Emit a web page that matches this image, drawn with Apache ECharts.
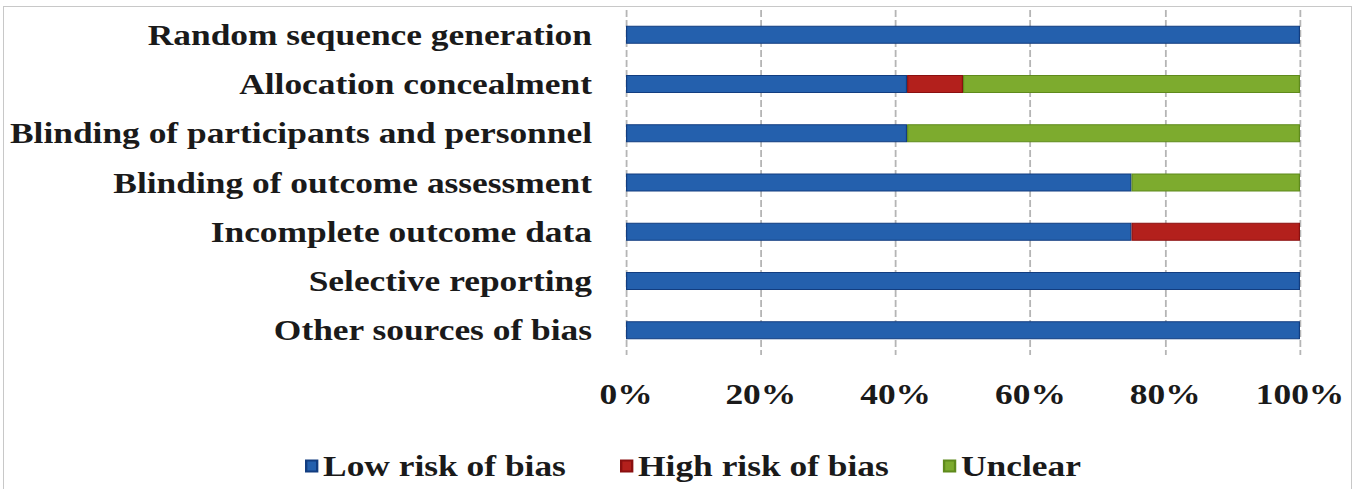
<!DOCTYPE html>
<html><head><meta charset="utf-8">
<script src="https://cdn.jsdelivr.net/npm/echarts@6/dist/echarts.min.js"></script>
<style>
html,body{margin:0;padding:0;background:#fff;overflow:hidden;}
#frame{position:absolute;left:3px;top:6px;width:1349px;height:500px;border:1px solid #c8c8c8;box-sizing:border-box;}
#chart{position:absolute;left:0;top:0;height:489px;transform-origin:0 0;}
</style>
</head><body>
<div id="frame"></div>
<div id="chart"></div>
<script>
const categories = [
  "Random sequence generation",
  "Allocation concealment",
  "Blinding of participants and personnel",
  "Blinding of outcome assessment",
  "Incomplete outcome data",
  "Selective reporting",
  "Other sources of bias"
];
const lowRisk  = [100, 41.7, 41.7, 75, 75, 100, 100];
const highRisk = [0, 8.3, 0, 0, 25, 0, 0];
const unclear  = [0, 50, 58.3, 25, 0, 0, 0];
const xTicks = [0, 20, 40, 60, 80, 100];

// The reference uses a horizontally stretched serif face; emulate with a scaleX.
const S = 1.18;
const W = 1358 / S;
const el = document.getElementById('chart');
el.style.width = W + 'px';
el.style.transform = 'scaleX(' + S + ')';

const font = "'Liberation Serif', 'Times New Roman', serif";
const chart = echarts.init(el, null, { renderer: 'svg', width: W, height: 489 });
function mk(name, data, color, border) {
  return {
    name, type: 'bar', stack: 'total',
    data: data.map(v => v === 0 ? '-' : v),
    barWidth: 18,
    itemStyle: { color, borderColor: border, borderWidth: 1 },
    emphasis: { disabled: true }
  };
}
chart.setOption({
  animation: false,
  backgroundColor: 'transparent',
  grid: { left: 626 / S, right: 58 / S, top: 10, bottom: 134, containLabel: false },
  legend: {
    bottom: 8, left: 305 / S, padding: 0,
    itemWidth: 11 / S, itemHeight: 11, itemGap: 54 / S,
    icon: 'rect',
    textStyle: { fontFamily: font, fontWeight: 'bold', fontSize: 30, color: '#1a1a1a' },
    data: ['Low risk of bias', 'High risk of bias', 'Unclear']
  },
  xAxis: {
    type: 'value', min: 0, max: 100, interval: 20,
    axisLine: { show: false }, axisTick: { show: false },
    splitLine: { show: true, lineStyle: { color: '#b5b5b5', width: 1.8 / S, type: [7, 3] } },
    axisLabel: {
      formatter: v => xTicks.includes(v) ? v + '%' : '',
      fontFamily: font, fontWeight: 'bold', fontSize: 30, color: '#1a1a1a', margin: 24
    }
  },
  yAxis: {
    type: 'category', data: categories, inverse: true,
    axisLine: { show: false }, axisTick: { show: false },
    splitLine: { show: false },
    axisLabel: { fontFamily: font, fontWeight: 'bold', fontSize: 30, color: '#1a1a1a', margin: 34 / S }
  },
  series: [
    mk('Low risk of bias', lowRisk, '#2460ad', '#123d80'),
    mk('High risk of bias', highRisk, '#b3201c', '#8a1010'),
    mk('Unclear', unclear, '#7dab2e', '#5f8a1c')
  ]
});
</script>
</body></html>
